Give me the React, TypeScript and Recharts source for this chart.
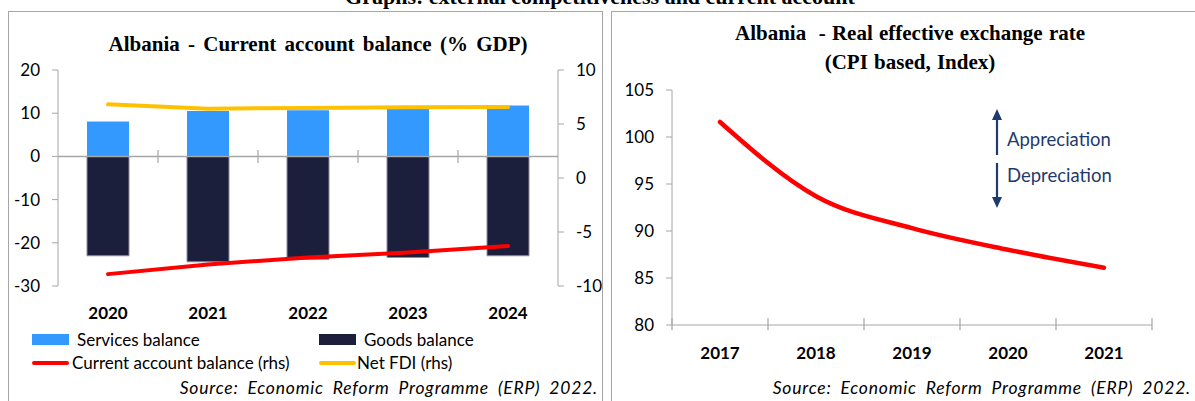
import React from "react";
import {
  Bar,
  ComposedChart,
  Line,
  LineChart,
  ReferenceLine,
  XAxis,
  YAxis,
} from "recharts";

const years = ["2020", "2021", "2022", "2023", "2024"];
const servicesBalance = [8.1, 10.5, 10.7, 11.0, 11.8];
const goodsBalance = [-23.0, -24.4, -23.8, -23.4, -23.0];
const currentAccount = [-8.9, -8.0, -7.35, -6.9, -6.3];
const netFdi = [6.82, 6.42, 6.48, 6.55, 6.57];
const leftTicks = [-30, -20, -10, 0, 10, 20];
const rightTicks = [-10, -5, 0, 5, 10];

const reerYears = ["2017", "2018", "2019", "2020", "2021"];
const reerIndex = [101.6, 93.7, 90.3, 88.0, 86.1];
const reerTicks = [80, 85, 90, 95, 100, 105];

const SANS = "Lato, 'Open Sans', sans-serif";
const SERIF = "'Liberation Serif', 'DejaVu Serif', serif";
const AXIS = "#A6A6A6";
const NAVY = "#1F3A6E";

const caData = years.map((y, i) => ({
  year: y,
  services: servicesBalance[i],
  goods: goodsBalance[i],
  ca: currentAccount[i],
  fdi: netFdi[i],
}));

const reerData = reerYears.map((y, i) => ({ year: y, reer: reerIndex[i] }));

const tickFont = { fontSize: 17, fill: "#000", fontFamily: SANS };
const yearFont = { fontSize: 17, fill: "#000", fontFamily: SANS, fontWeight: 700 };

const sourceStyle: React.CSSProperties = {
  position: "absolute",
  top: 377,
  fontSize: 17.5,
  fontStyle: "italic",
  whiteSpace: "nowrap",
  letterSpacing: 0.8,
  wordSpacing: 4,
};

const Swatch = ({ color, line }: { color: string; line?: boolean }) => (
  <span
    style={{
      display: "inline-block",
      width: 37,
      height: line ? 4 : 11,
      borderRadius: line ? 2 : 0,
      background: color,
      verticalAlign: "middle",
    }}
  />
);

const App = () => {
  return (
    <div
      style={{
        position: "absolute",
        left: 0,
        top: 0,
        width: 1195,
        height: 401,
        overflow: "hidden",
        background: "#fff",
        fontFamily: SANS,
      }}
    >
      <div
        style={{
          position: "absolute",
          left: 0,
          top: -14,
          width: 1200,
          textAlign: "center",
          fontFamily: SERIF,
          fontWeight: 700,
          fontSize: 22,
          lineHeight: "22px",
        }}
      >
        Graphs: external competitiveness and current account
      </div>

      {/* left panel */}
      <div
        style={{
          position: "absolute",
          left: 8,
          top: 11,
          width: 595,
          height: 400,
          border: `1.5px solid ${AXIS}`,
          boxSizing: "border-box",
        }}
      />
      <div
        style={{
          position: "absolute",
          left: 8,
          top: 31,
          width: 620,
          textAlign: "center",
          fontFamily: SERIF,
          fontWeight: 700,
          fontSize: 21,
          lineHeight: "26px",
          wordSpacing: 3,
          whiteSpace: "nowrap",
        }}
      >
        Albania - Current account balance (% GDP)
      </div>
      <div style={{ position: "absolute", left: 0, top: 0 }}>
        <ComposedChart
          width={604}
          height={401}
          data={caData}
          stackOffset="sign"
          margin={{ top: 70, right: 0, bottom: 75, left: 0 }}
        >
          <XAxis
            dataKey="year"
            axisLine={false}
            tickLine={false}
            tick={yearFont}
            tickMargin={15}
            height={40}
          />
          <YAxis
            yAxisId="left"
            domain={[-30, 20]}
            ticks={leftTicks}
            width={58}
            stroke={AXIS}
            tick={tickFont}
            tickMargin={12}
          />
          <YAxis
            yAxisId="right"
            orientation="right"
            domain={[-10, 10]}
            ticks={rightTicks}
            width={46}
            stroke={AXIS}
            tick={tickFont}
            tickMargin={12}
          />
          <ReferenceLine yAxisId="left" y={0} stroke={AXIS} strokeWidth={1.5} />
          {years.slice(1).map((y) => (
            <ReferenceLine
              key={y}
              yAxisId="left"
              position="start"
              segment={[
                { x: y, y: -1.5 },
                { x: y, y: 1.5 },
              ]}
              stroke={AXIS}
              strokeWidth={1.2}
            />
          ))}
          <Bar
            yAxisId="left"
            dataKey="services"
            stackId="a"
            fill="#3399FF"
            barSize={42}
            isAnimationActive={false}
          />
          <Bar
            yAxisId="left"
            dataKey="goods"
            stackId="a"
            fill="#1C1F3B"
            stroke="#8C88A6"
            strokeWidth={1}
            barSize={42}
            isAnimationActive={false}
          />
          <Line
            yAxisId="right"
            dataKey="fdi"
            type="linear"
            stroke="#FFC000"
            strokeWidth={4}
            strokeLinecap="round"
            dot={false}
            isAnimationActive={false}
          />
          <Line
            yAxisId="right"
            dataKey="ca"
            type="linear"
            stroke="#FF0000"
            strokeWidth={4}
            strokeLinecap="round"
            dot={false}
            isAnimationActive={false}
          />
        </ComposedChart>
      </div>

      {/* left legend */}
      <div
        style={{
          position: "absolute",
          left: 32,
          top: 327,
          fontSize: 17,
          lineHeight: "22px",
          color: "#000",
        }}
      >
        <div style={{ position: "absolute", left: 0, top: 0, whiteSpace: "nowrap" }}>
          <Swatch color="#3399FF" />
          <span style={{ marginLeft: 8, verticalAlign: "middle" }}>Services balance</span>
        </div>
        <div style={{ position: "absolute", left: 287, top: 0, whiteSpace: "nowrap" }}>
          <Swatch color="#1C1F3B" />
          <span style={{ marginLeft: 8, verticalAlign: "middle" }}>Goods balance</span>
        </div>
        <div style={{ position: "absolute", left: 0, top: 23, whiteSpace: "nowrap" }}>
          <Swatch color="#FF0000" line />
          <span style={{ marginLeft: 3, verticalAlign: "middle" }}>
            Current account balance (rhs)
          </span>
        </div>
        <div style={{ position: "absolute", left: 287, top: 23, whiteSpace: "nowrap" }}>
          <Swatch color="#FFC000" line />
          <span style={{ marginLeft: 1, verticalAlign: "middle" }}>Net FDI (rhs)</span>
        </div>
      </div>
      <div style={{ ...sourceStyle, right: 1195 - 598 }}>
        Source: Economic Reform Programme (ERP) 2022.
      </div>

      {/* right panel */}
      <div
        style={{
          position: "absolute",
          left: 611,
          top: 11,
          width: 600,
          height: 400,
          border: `1.5px solid ${AXIS}`,
          boxSizing: "border-box",
        }}
      />
      <div
        style={{
          position: "absolute",
          left: 660,
          top: 19,
          width: 500,
          textAlign: "center",
          fontFamily: SERIF,
          fontWeight: 700,
          fontSize: 21,
          lineHeight: "29px",
          wordSpacing: 1,
        }}
      >
        Albania&nbsp; - Real effective exchange rate
        <br />
        (CPI based, Index)
      </div>
      <div style={{ position: "absolute", left: 612, top: 0 }}>
        <LineChart
          width={583}
          height={401}
          data={reerData}
          margin={{ top: 90, right: 43, bottom: 36, left: 0 }}
        >
          <XAxis
            dataKey="year"
            scale="band"
            stroke={AXIS}
            tickLine={false}
            tick={yearFont}
            tickMargin={16}
            height={40}
          />
          <YAxis
            domain={[80, 105]}
            ticks={reerTicks}
            width={60}
            stroke={AXIS}
            tick={tickFont}
            tickMargin={12}
          />
          {reerYears.map((y) => (
            <ReferenceLine
              key={y}
              position="start"
              ifOverflow="visible"
              segment={[
                { x: y, y: 80.75 },
                { x: y, y: 79.45 },
              ]}
              stroke={AXIS}
              strokeWidth={1.2}
            />
          ))}
          <ReferenceLine
            position="end"
            ifOverflow="visible"
            segment={[
              { x: reerYears[reerYears.length - 1], y: 80.75 },
              { x: reerYears[reerYears.length - 1], y: 79.45 },
            ]}
            stroke={AXIS}
            strokeWidth={1.2}
          />
          <Line
            dataKey="reer"
            type="monotone"
            stroke="#FF0000"
            strokeWidth={4.5}
            strokeLinecap="round"
            dot={false}
            isAnimationActive={false}
          />
        </LineChart>
      </div>

      {/* appreciation / depreciation annotation */}
      <svg
        style={{ position: "absolute", left: 0, top: 0 }}
        width={1195}
        height={401}
        pointerEvents="none"
      >
        <line x1={997} y1={118} x2={997} y2={155} stroke={NAVY} strokeWidth={2.2} />
        <polygon points="992,120 1002,120 997,109" fill={NAVY} />
        <line x1={997} y1={163} x2={997} y2={199} stroke={NAVY} strokeWidth={2.2} />
        <polygon points="992,197 1002,197 997,208" fill={NAVY} />
      </svg>
      <div
        style={{
          position: "absolute",
          left: 1007,
          top: 127,
          fontSize: 18.5,
          lineHeight: "24px",
          color: NAVY,
          whiteSpace: "nowrap",
        }}
      >
        Appreciation
      </div>
      <div
        style={{
          position: "absolute",
          left: 1007,
          top: 163,
          fontSize: 18.5,
          lineHeight: "24px",
          color: NAVY,
          whiteSpace: "nowrap",
        }}
      >
        Depreciation
      </div>
      <div style={{ ...sourceStyle, right: 4 }}>
        Source: Economic Reform Programme (ERP) 2022.
      </div>
    </div>
  );
};

export default App;
